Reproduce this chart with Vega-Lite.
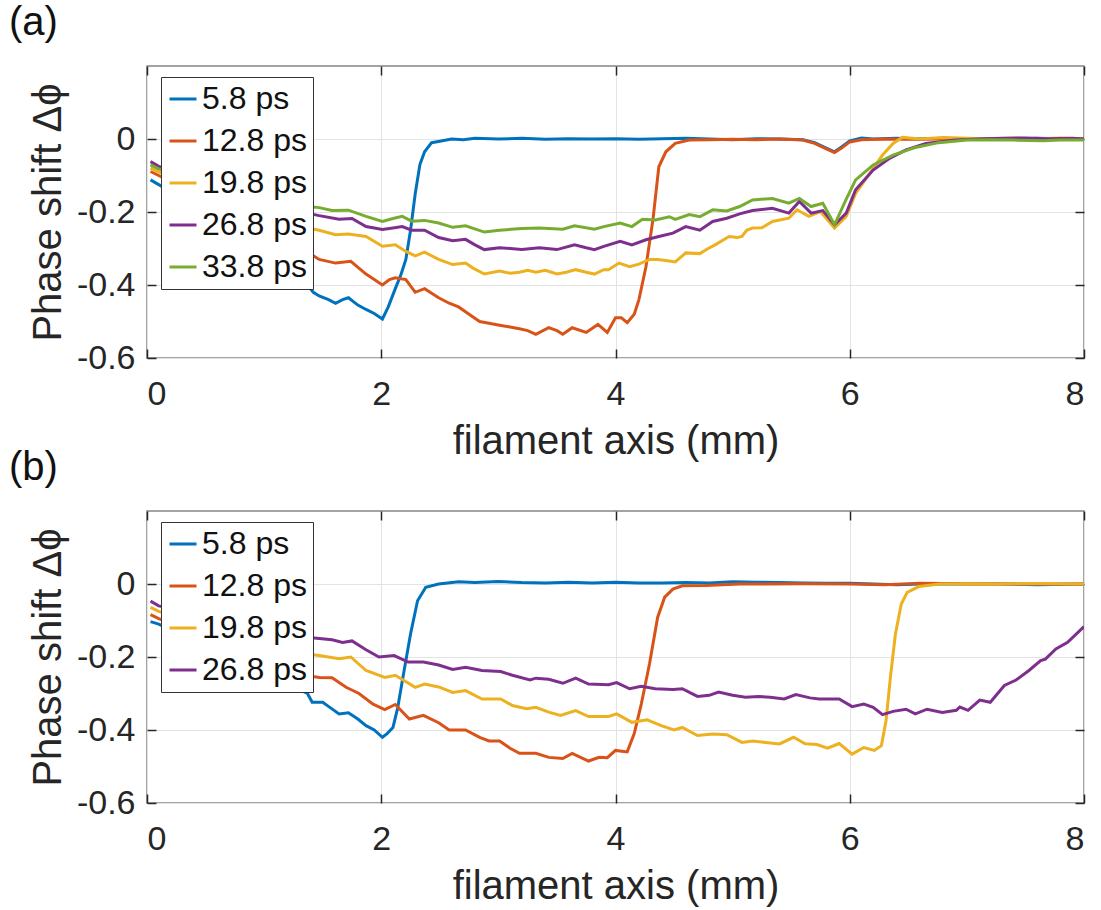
{
  "$schema": "https://vega.github.io/schema/vega-lite/v6.json",
  "background": "white",
  "padding": {"left": 8, "top": 2, "right": 5, "bottom": 5},
  "spacing": -15,
  "config": {
    "font": "Liberation Sans",
    "view": {"stroke": "#858585", "strokeWidth": 1.5},
    "title": {"fontSize": 40, "fontWeight": "normal", "color": "#111", "anchor": "start", "frame": "group"},
    "axis": {
      "labelFontSize": 34, "titleFontSize": 40, "titleFontWeight": "normal",
      "labelColor": "#262626", "titleColor": "#262626",
      "grid": true, "gridColor": "#e3e3e3", "gridWidth": 1,
      "domain": false, "tickColor": "#262626", "tickSize": -9, "tickWidth": 1.5
    },
    "legend": {
      "orient": "none", "legendX": 14, "legendY": 11, "title": null,
      "labelFontSize": 32, "labelColor": "#111", "labelOffset": 3,
      "symbolType": "stroke", "symbolStrokeWidth": 3, "symbolSize": 729,
      "strokeColor": "#333", "fillColor": "white", "padding": 6, "rowPadding": 10
    }
  },
  "vconcat": [
    {
      "width": 937, "height": 292,
      "title": {"text": "(a)", "dx": -138, "offset": 22},
      "data": {"values": [
        {"s":"5.8 ps","x":0.03,"y":-0.112},{"s":"5.8 ps","x":0.1,"y":-0.125},{"s":"5.8 ps","x":1.37,"y":-0.40},{"s":"5.8 ps","x":1.42,"y":-0.42},{"s":"5.8 ps","x":1.47,"y":-0.43},{"s":"5.8 ps","x":1.55,"y":-0.44},{"s":"5.8 ps","x":1.61,"y":-0.45},{"s":"5.8 ps","x":1.67,"y":-0.44},{"s":"5.8 ps","x":1.72,"y":-0.435},{"s":"5.8 ps","x":1.8,"y":-0.455},{"s":"5.8 ps","x":1.87,"y":-0.467},{"s":"5.8 ps","x":1.94,"y":-0.478},{"s":"5.8 ps","x":2.01,"y":-0.493},{"s":"5.8 ps","x":2.06,"y":-0.46},{"s":"5.8 ps","x":2.12,"y":-0.41},{"s":"5.8 ps","x":2.17,"y":-0.37},{"s":"5.8 ps","x":2.21,"y":-0.33},{"s":"5.8 ps","x":2.25,"y":-0.25},{"s":"5.8 ps","x":2.29,"y":-0.15},{"s":"5.8 ps","x":2.33,"y":-0.07},{"s":"5.8 ps","x":2.37,"y":-0.035},{"s":"5.8 ps","x":2.43,"y":-0.01},{"s":"5.8 ps","x":2.5,"y":-0.006},{"s":"5.8 ps","x":2.6,"y":0.0},{"s":"5.8 ps","x":2.7,"y":-0.002},{"s":"5.8 ps","x":2.8,"y":0.002},{"s":"5.8 ps","x":3.0,"y":0.0},{"s":"5.8 ps","x":3.2,"y":0.002},{"s":"5.8 ps","x":3.4,"y":-0.001},{"s":"5.8 ps","x":3.6,"y":0.001},{"s":"5.8 ps","x":3.8,"y":0.0},{"s":"5.8 ps","x":4.0,"y":0.001},{"s":"5.8 ps","x":4.2,"y":-0.001},{"s":"5.8 ps","x":4.4,"y":0.001},{"s":"5.8 ps","x":4.6,"y":0.002},{"s":"5.8 ps","x":4.8,"y":0.0},{"s":"5.8 ps","x":5.0,"y":-0.002},{"s":"5.8 ps","x":5.2,"y":0.001},{"s":"5.8 ps","x":5.4,"y":0.0},{"s":"5.8 ps","x":5.6,"y":-0.002},{"s":"5.8 ps","x":5.7,"y":-0.01},{"s":"5.8 ps","x":5.8,"y":-0.025},{"s":"5.8 ps","x":5.87,"y":-0.035},{"s":"5.8 ps","x":5.93,"y":-0.022},{"s":"5.8 ps","x":6.0,"y":-0.005},{"s":"5.8 ps","x":6.1,"y":0.003},{"s":"5.8 ps","x":6.2,"y":0.0},{"s":"5.8 ps","x":6.4,"y":0.002},{"s":"5.8 ps","x":6.6,"y":0.0},{"s":"5.8 ps","x":6.8,"y":0.002},{"s":"5.8 ps","x":7.0,"y":0.0},{"s":"5.8 ps","x":7.2,"y":0.001},{"s":"5.8 ps","x":7.4,"y":0.0},{"s":"5.8 ps","x":7.6,"y":0.002},{"s":"5.8 ps","x":7.8,"y":0.001},{"s":"5.8 ps","x":8.0,"y":0.0},
        {"s":"12.8 ps","x":0.03,"y":-0.089},{"s":"12.8 ps","x":0.1,"y":-0.10},{"s":"12.8 ps","x":1.37,"y":-0.31},{"s":"12.8 ps","x":1.47,"y":-0.33},{"s":"12.8 ps","x":1.61,"y":-0.34},{"s":"12.8 ps","x":1.74,"y":-0.335},{"s":"12.8 ps","x":1.87,"y":-0.37},{"s":"12.8 ps","x":2.01,"y":-0.40},{"s":"12.8 ps","x":2.07,"y":-0.385},{"s":"12.8 ps","x":2.12,"y":-0.38},{"s":"12.8 ps","x":2.21,"y":-0.385},{"s":"12.8 ps","x":2.29,"y":-0.42},{"s":"12.8 ps","x":2.37,"y":-0.41},{"s":"12.8 ps","x":2.49,"y":-0.435},{"s":"12.8 ps","x":2.58,"y":-0.45},{"s":"12.8 ps","x":2.66,"y":-0.46},{"s":"12.8 ps","x":2.75,"y":-0.48},{"s":"12.8 ps","x":2.84,"y":-0.50},{"s":"12.8 ps","x":2.92,"y":-0.505},{"s":"12.8 ps","x":3.01,"y":-0.51},{"s":"12.8 ps","x":3.1,"y":-0.515},{"s":"12.8 ps","x":3.18,"y":-0.52},{"s":"12.8 ps","x":3.25,"y":-0.525},{"s":"12.8 ps","x":3.32,"y":-0.535},{"s":"12.8 ps","x":3.43,"y":-0.517},{"s":"12.8 ps","x":3.5,"y":-0.525},{"s":"12.8 ps","x":3.55,"y":-0.535},{"s":"12.8 ps","x":3.63,"y":-0.517},{"s":"12.8 ps","x":3.75,"y":-0.53},{"s":"12.8 ps","x":3.85,"y":-0.508},{"s":"12.8 ps","x":3.93,"y":-0.53},{"s":"12.8 ps","x":4.0,"y":-0.49},{"s":"12.8 ps","x":4.05,"y":-0.49},{"s":"12.8 ps","x":4.1,"y":-0.503},{"s":"12.8 ps","x":4.16,"y":-0.48},{"s":"12.8 ps","x":4.2,"y":-0.44},{"s":"12.8 ps","x":4.26,"y":-0.35},{"s":"12.8 ps","x":4.32,"y":-0.22},{"s":"12.8 ps","x":4.37,"y":-0.076},{"s":"12.8 ps","x":4.43,"y":-0.035},{"s":"12.8 ps","x":4.51,"y":-0.012},{"s":"12.8 ps","x":4.63,"y":-0.003},{"s":"12.8 ps","x":4.8,"y":-0.002},{"s":"12.8 ps","x":5.0,"y":-0.001},{"s":"12.8 ps","x":5.2,"y":-0.002},{"s":"12.8 ps","x":5.4,"y":0.0},{"s":"12.8 ps","x":5.6,"y":-0.003},{"s":"12.8 ps","x":5.7,"y":-0.012},{"s":"12.8 ps","x":5.8,"y":-0.027},{"s":"12.8 ps","x":5.87,"y":-0.037},{"s":"12.8 ps","x":5.93,"y":-0.025},{"s":"12.8 ps","x":6.0,"y":-0.008},{"s":"12.8 ps","x":6.1,"y":-0.002},{"s":"12.8 ps","x":6.3,"y":0.0},{"s":"12.8 ps","x":6.5,"y":-0.001},{"s":"12.8 ps","x":6.8,"y":0.0},{"s":"12.8 ps","x":7.0,"y":0.001},{"s":"12.8 ps","x":7.3,"y":0.0},{"s":"12.8 ps","x":7.6,"y":0.001},{"s":"12.8 ps","x":8.0,"y":0.0},
        {"s":"19.8 ps","x":0.03,"y":-0.08},{"s":"19.8 ps","x":0.1,"y":-0.09},{"s":"19.8 ps","x":1.37,"y":-0.244},{"s":"19.8 ps","x":1.47,"y":-0.25},{"s":"19.8 ps","x":1.61,"y":-0.262},{"s":"19.8 ps","x":1.72,"y":-0.26},{"s":"19.8 ps","x":1.87,"y":-0.267},{"s":"19.8 ps","x":2.01,"y":-0.294},{"s":"19.8 ps","x":2.12,"y":-0.29},{"s":"19.8 ps","x":2.21,"y":-0.308},{"s":"19.8 ps","x":2.29,"y":-0.32},{"s":"19.8 ps","x":2.37,"y":-0.31},{"s":"19.8 ps","x":2.49,"y":-0.33},{"s":"19.8 ps","x":2.61,"y":-0.344},{"s":"19.8 ps","x":2.72,"y":-0.34},{"s":"19.8 ps","x":2.78,"y":-0.353},{"s":"19.8 ps","x":2.88,"y":-0.37},{"s":"19.8 ps","x":3.01,"y":-0.362},{"s":"19.8 ps","x":3.1,"y":-0.368},{"s":"19.8 ps","x":3.18,"y":-0.365},{"s":"19.8 ps","x":3.25,"y":-0.36},{"s":"19.8 ps","x":3.32,"y":-0.365},{"s":"19.8 ps","x":3.4,"y":-0.36},{"s":"19.8 ps","x":3.5,"y":-0.37},{"s":"19.8 ps","x":3.58,"y":-0.365},{"s":"19.8 ps","x":3.66,"y":-0.358},{"s":"19.8 ps","x":3.75,"y":-0.365},{"s":"19.8 ps","x":3.82,"y":-0.37},{"s":"19.8 ps","x":3.9,"y":-0.358},{"s":"19.8 ps","x":3.94,"y":-0.358},{"s":"19.8 ps","x":4.03,"y":-0.34},{"s":"19.8 ps","x":4.12,"y":-0.35},{"s":"19.8 ps","x":4.2,"y":-0.343},{"s":"19.8 ps","x":4.29,"y":-0.33},{"s":"19.8 ps","x":4.36,"y":-0.33},{"s":"19.8 ps","x":4.43,"y":-0.333},{"s":"19.8 ps","x":4.51,"y":-0.337},{"s":"19.8 ps","x":4.6,"y":-0.312},{"s":"19.8 ps","x":4.72,"y":-0.314},{"s":"19.8 ps","x":4.78,"y":-0.302},{"s":"19.8 ps","x":4.85,"y":-0.29},{"s":"19.8 ps","x":4.97,"y":-0.267},{"s":"19.8 ps","x":5.04,"y":-0.27},{"s":"19.8 ps","x":5.08,"y":-0.267},{"s":"19.8 ps","x":5.12,"y":-0.25},{"s":"19.8 ps","x":5.17,"y":-0.244},{"s":"19.8 ps","x":5.25,"y":-0.243},{"s":"19.8 ps","x":5.34,"y":-0.226},{"s":"19.8 ps","x":5.48,"y":-0.217},{"s":"19.8 ps","x":5.55,"y":-0.194},{"s":"19.8 ps","x":5.65,"y":-0.212},{"s":"19.8 ps","x":5.75,"y":-0.199},{"s":"19.8 ps","x":5.87,"y":-0.244},{"s":"19.8 ps","x":5.97,"y":-0.212},{"s":"19.8 ps","x":6.05,"y":-0.149},{"s":"19.8 ps","x":6.17,"y":-0.094},{"s":"19.8 ps","x":6.28,"y":-0.044},{"s":"19.8 ps","x":6.37,"y":-0.012},{"s":"19.8 ps","x":6.45,"y":0.005},{"s":"19.8 ps","x":6.6,"y":0.0},{"s":"19.8 ps","x":6.8,"y":0.004},{"s":"19.8 ps","x":7.0,"y":0.002},{"s":"19.8 ps","x":7.2,"y":0.0},{"s":"19.8 ps","x":7.4,"y":0.002},{"s":"19.8 ps","x":7.6,"y":0.001},{"s":"19.8 ps","x":7.8,"y":0.003},{"s":"19.8 ps","x":8.0,"y":0.0},
        {"s":"26.8 ps","x":0.03,"y":-0.062},{"s":"26.8 ps","x":0.1,"y":-0.075},{"s":"26.8 ps","x":1.37,"y":-0.203},{"s":"26.8 ps","x":1.47,"y":-0.21},{"s":"26.8 ps","x":1.64,"y":-0.22},{"s":"26.8 ps","x":1.75,"y":-0.218},{"s":"26.8 ps","x":1.87,"y":-0.24},{"s":"26.8 ps","x":2.01,"y":-0.248},{"s":"26.8 ps","x":2.1,"y":-0.244},{"s":"26.8 ps","x":2.18,"y":-0.24},{"s":"26.8 ps","x":2.26,"y":-0.25},{"s":"26.8 ps","x":2.37,"y":-0.25},{"s":"26.8 ps","x":2.49,"y":-0.27},{"s":"26.8 ps","x":2.61,"y":-0.279},{"s":"26.8 ps","x":2.72,"y":-0.275},{"s":"26.8 ps","x":2.8,"y":-0.29},{"s":"26.8 ps","x":2.88,"y":-0.303},{"s":"26.8 ps","x":3.01,"y":-0.298},{"s":"26.8 ps","x":3.1,"y":-0.3},{"s":"26.8 ps","x":3.2,"y":-0.303},{"s":"26.8 ps","x":3.35,"y":-0.298},{"s":"26.8 ps","x":3.5,"y":-0.303},{"s":"26.8 ps","x":3.65,"y":-0.29},{"s":"26.8 ps","x":3.75,"y":-0.298},{"s":"26.8 ps","x":3.82,"y":-0.303},{"s":"26.8 ps","x":3.9,"y":-0.294},{"s":"26.8 ps","x":4.04,"y":-0.28},{"s":"26.8 ps","x":4.14,"y":-0.29},{"s":"26.8 ps","x":4.26,"y":-0.276},{"s":"26.8 ps","x":4.37,"y":-0.267},{"s":"26.8 ps","x":4.49,"y":-0.258},{"s":"26.8 ps","x":4.6,"y":-0.24},{"s":"26.8 ps","x":4.72,"y":-0.25},{"s":"26.8 ps","x":4.83,"y":-0.226},{"s":"26.8 ps","x":4.95,"y":-0.217},{"s":"26.8 ps","x":5.06,"y":-0.205},{"s":"26.8 ps","x":5.17,"y":-0.196},{"s":"26.8 ps","x":5.34,"y":-0.19},{"s":"26.8 ps","x":5.48,"y":-0.203},{"s":"26.8 ps","x":5.57,"y":-0.171},{"s":"26.8 ps","x":5.67,"y":-0.203},{"s":"26.8 ps","x":5.77,"y":-0.196},{"s":"26.8 ps","x":5.87,"y":-0.235},{"s":"26.8 ps","x":5.97,"y":-0.203},{"s":"26.8 ps","x":6.05,"y":-0.139},{"s":"26.8 ps","x":6.2,"y":-0.085},{"s":"26.8 ps","x":6.34,"y":-0.053},{"s":"26.8 ps","x":6.48,"y":-0.03},{"s":"26.8 ps","x":6.65,"y":-0.012},{"s":"26.8 ps","x":6.9,"y":-0.003},{"s":"26.8 ps","x":7.1,"y":0.0},{"s":"26.8 ps","x":7.3,"y":0.002},{"s":"26.8 ps","x":7.5,"y":0.003},{"s":"26.8 ps","x":7.7,"y":0.001},{"s":"26.8 ps","x":7.9,"y":0.002},{"s":"26.8 ps","x":8.0,"y":0.0},
        {"s":"33.8 ps","x":0.03,"y":-0.071},{"s":"33.8 ps","x":0.1,"y":-0.082},{"s":"33.8 ps","x":1.37,"y":-0.185},{"s":"33.8 ps","x":1.47,"y":-0.188},{"s":"33.8 ps","x":1.58,"y":-0.196},{"s":"33.8 ps","x":1.72,"y":-0.195},{"s":"33.8 ps","x":1.87,"y":-0.212},{"s":"33.8 ps","x":2.01,"y":-0.226},{"s":"33.8 ps","x":2.1,"y":-0.218},{"s":"33.8 ps","x":2.18,"y":-0.212},{"s":"33.8 ps","x":2.26,"y":-0.225},{"s":"33.8 ps","x":2.37,"y":-0.223},{"s":"33.8 ps","x":2.49,"y":-0.23},{"s":"33.8 ps","x":2.61,"y":-0.242},{"s":"33.8 ps","x":2.72,"y":-0.238},{"s":"33.8 ps","x":2.88,"y":-0.255},{"s":"33.8 ps","x":3.01,"y":-0.25},{"s":"33.8 ps","x":3.2,"y":-0.245},{"s":"33.8 ps","x":3.35,"y":-0.244},{"s":"33.8 ps","x":3.55,"y":-0.247},{"s":"33.8 ps","x":3.65,"y":-0.238},{"s":"33.8 ps","x":3.82,"y":-0.247},{"s":"33.8 ps","x":3.9,"y":-0.24},{"s":"33.8 ps","x":4.04,"y":-0.23},{"s":"33.8 ps","x":4.14,"y":-0.24},{"s":"33.8 ps","x":4.23,"y":-0.22},{"s":"33.8 ps","x":4.34,"y":-0.222},{"s":"33.8 ps","x":4.46,"y":-0.213},{"s":"33.8 ps","x":4.51,"y":-0.22},{"s":"33.8 ps","x":4.63,"y":-0.207},{"s":"33.8 ps","x":4.72,"y":-0.213},{"s":"33.8 ps","x":4.83,"y":-0.194},{"s":"33.8 ps","x":4.95,"y":-0.197},{"s":"33.8 ps","x":5.06,"y":-0.185},{"s":"33.8 ps","x":5.17,"y":-0.167},{"s":"33.8 ps","x":5.34,"y":-0.163},{"s":"33.8 ps","x":5.48,"y":-0.176},{"s":"33.8 ps","x":5.57,"y":-0.163},{"s":"33.8 ps","x":5.67,"y":-0.185},{"s":"33.8 ps","x":5.77,"y":-0.176},{"s":"33.8 ps","x":5.87,"y":-0.235},{"s":"33.8 ps","x":5.97,"y":-0.165},{"s":"33.8 ps","x":6.05,"y":-0.112},{"s":"33.8 ps","x":6.2,"y":-0.071},{"s":"33.8 ps","x":6.37,"y":-0.044},{"s":"33.8 ps","x":6.55,"y":-0.024},{"s":"33.8 ps","x":6.76,"y":-0.01},{"s":"33.8 ps","x":7.0,"y":-0.003},{"s":"33.8 ps","x":7.2,"y":-0.002},{"s":"33.8 ps","x":7.4,"y":-0.003},{"s":"33.8 ps","x":7.65,"y":-0.005},{"s":"33.8 ps","x":7.8,"y":-0.003},{"s":"33.8 ps","x":8.0,"y":-0.003}
      ]},
      "layer": [
        {
          "mark": {"type": "line", "strokeWidth": 3, "clip": true},
          "encoding": {
            "x": {"field": "x", "type": "quantitative", "scale": {"domain": [0, 8], "nice": false}, "axis": {"values": [0, 2, 4, 6, 8], "title": "filament axis (mm)", "labelPadding": 28, "titlePadding": 10}},
            "y": {"field": "y", "type": "quantitative", "scale": {"domain": [-0.6, 0.2], "nice": false, "zero": false}, "axis": {"values": [-0.6, -0.4, -0.2, 0], "title": "Phase shift Δϕ", "labelPadding": 21, "titlePadding": 8, "labelExpr": "datum.value == 0 ? '0' : '-' + format(abs(datum.value), '.1f')"}},
            "color": {"field": "s", "type": "nominal", "scale": {"domain": ["5.8 ps", "12.8 ps", "19.8 ps", "26.8 ps", "33.8 ps"], "range": ["#0072BD", "#D95319", "#EDB120", "#7E2F8E", "#77AC30"]}}
          }
        },
        {
          "mark": {"type": "point", "opacity": 0},
          "encoding": {
            "x": {"field": "x", "type": "quantitative", "axis": {"orient": "top", "values": [0, 2, 4, 6, 8], "labels": false, "title": null, "grid": false}},
            "y": {"field": "y", "type": "quantitative", "axis": {"orient": "right", "values": [-0.6, -0.4, -0.2, 0], "labels": false, "title": null, "grid": false}}
          }
        }
      ],
      "resolve": {"axis": {"x": "independent", "y": "independent"}}
    },
    {
      "width": 937, "height": 292,
      "title": {"text": "(b)", "dx": -138, "offset": 22},
      "data": {"values": [
        {"s":"5.8 ps","x":0.03,"y":-0.103},{"s":"5.8 ps","x":0.1,"y":-0.11},{"s":"5.8 ps","x":1.37,"y":-0.30},{"s":"5.8 ps","x":1.41,"y":-0.324},{"s":"5.8 ps","x":1.5,"y":-0.324},{"s":"5.8 ps","x":1.57,"y":-0.34},{"s":"5.8 ps","x":1.64,"y":-0.356},{"s":"5.8 ps","x":1.72,"y":-0.353},{"s":"5.8 ps","x":1.8,"y":-0.37},{"s":"5.8 ps","x":1.87,"y":-0.388},{"s":"5.8 ps","x":1.94,"y":-0.40},{"s":"5.8 ps","x":2.01,"y":-0.42},{"s":"5.8 ps","x":2.05,"y":-0.41},{"s":"5.8 ps","x":2.1,"y":-0.393},{"s":"5.8 ps","x":2.14,"y":-0.34},{"s":"5.8 ps","x":2.18,"y":-0.265},{"s":"5.8 ps","x":2.25,"y":-0.137},{"s":"5.8 ps","x":2.31,"y":-0.046},{"s":"5.8 ps","x":2.38,"y":-0.009},{"s":"5.8 ps","x":2.49,"y":0.0},{"s":"5.8 ps","x":2.66,"y":0.006},{"s":"5.8 ps","x":2.8,"y":0.004},{"s":"5.8 ps","x":3.0,"y":0.007},{"s":"5.8 ps","x":3.2,"y":0.004},{"s":"5.8 ps","x":3.4,"y":0.003},{"s":"5.8 ps","x":3.6,"y":0.005},{"s":"5.8 ps","x":3.8,"y":0.003},{"s":"5.8 ps","x":4.0,"y":0.005},{"s":"5.8 ps","x":4.2,"y":0.003},{"s":"5.8 ps","x":4.4,"y":0.003},{"s":"5.8 ps","x":4.6,"y":0.004},{"s":"5.8 ps","x":4.8,"y":0.003},{"s":"5.8 ps","x":5.0,"y":0.006},{"s":"5.8 ps","x":5.2,"y":0.005},{"s":"5.8 ps","x":5.4,"y":0.004},{"s":"5.8 ps","x":5.6,"y":0.003},{"s":"5.8 ps","x":5.8,"y":0.002},{"s":"5.8 ps","x":6.0,"y":0.002},{"s":"5.8 ps","x":6.2,"y":0.0},{"s":"5.8 ps","x":6.4,"y":-0.002},{"s":"5.8 ps","x":6.6,"y":0.0},{"s":"5.8 ps","x":6.8,"y":0.001},{"s":"5.8 ps","x":7.0,"y":0.0},{"s":"5.8 ps","x":7.3,"y":0.0},{"s":"5.8 ps","x":7.6,"y":-0.002},{"s":"5.8 ps","x":8.0,"y":0.0},
        {"s":"12.8 ps","x":0.03,"y":-0.084},{"s":"12.8 ps","x":0.1,"y":-0.095},{"s":"12.8 ps","x":1.37,"y":-0.251},{"s":"12.8 ps","x":1.47,"y":-0.256},{"s":"12.8 ps","x":1.58,"y":-0.257},{"s":"12.8 ps","x":1.7,"y":-0.283},{"s":"12.8 ps","x":1.81,"y":-0.30},{"s":"12.8 ps","x":1.93,"y":-0.329},{"s":"12.8 ps","x":2.03,"y":-0.344},{"s":"12.8 ps","x":2.12,"y":-0.33},{"s":"12.8 ps","x":2.24,"y":-0.37},{"s":"12.8 ps","x":2.36,"y":-0.36},{"s":"12.8 ps","x":2.49,"y":-0.38},{"s":"12.8 ps","x":2.58,"y":-0.40},{"s":"12.8 ps","x":2.72,"y":-0.40},{"s":"12.8 ps","x":2.84,"y":-0.42},{"s":"12.8 ps","x":2.92,"y":-0.43},{"s":"12.8 ps","x":3.01,"y":-0.43},{"s":"12.8 ps","x":3.1,"y":-0.45},{"s":"12.8 ps","x":3.18,"y":-0.464},{"s":"12.8 ps","x":3.32,"y":-0.464},{"s":"12.8 ps","x":3.43,"y":-0.475},{"s":"12.8 ps","x":3.55,"y":-0.478},{"s":"12.8 ps","x":3.63,"y":-0.464},{"s":"12.8 ps","x":3.77,"y":-0.485},{"s":"12.8 ps","x":3.86,"y":-0.475},{"s":"12.8 ps","x":3.93,"y":-0.476},{"s":"12.8 ps","x":4.0,"y":-0.456},{"s":"12.8 ps","x":4.1,"y":-0.46},{"s":"12.8 ps","x":4.16,"y":-0.41},{"s":"12.8 ps","x":4.22,"y":-0.329},{"s":"12.8 ps","x":4.29,"y":-0.219},{"s":"12.8 ps","x":4.36,"y":-0.091},{"s":"12.8 ps","x":4.42,"y":-0.036},{"s":"12.8 ps","x":4.49,"y":-0.014},{"s":"12.8 ps","x":4.57,"y":-0.005},{"s":"12.8 ps","x":4.77,"y":-0.004},{"s":"12.8 ps","x":5.06,"y":0.0},{"s":"12.8 ps","x":5.3,"y":0.0},{"s":"12.8 ps","x":5.6,"y":0.001},{"s":"12.8 ps","x":6.0,"y":0.0},{"s":"12.8 ps","x":6.3,"y":-0.002},{"s":"12.8 ps","x":6.6,"y":0.002},{"s":"12.8 ps","x":7.0,"y":0.001},{"s":"12.8 ps","x":7.5,"y":0.0},{"s":"12.8 ps","x":8.0,"y":0.0},
        {"s":"19.8 ps","x":0.03,"y":-0.064},{"s":"19.8 ps","x":0.1,"y":-0.075},{"s":"19.8 ps","x":1.37,"y":-0.192},{"s":"19.8 ps","x":1.47,"y":-0.196},{"s":"19.8 ps","x":1.64,"y":-0.205},{"s":"19.8 ps","x":1.74,"y":-0.2},{"s":"19.8 ps","x":1.87,"y":-0.237},{"s":"19.8 ps","x":2.03,"y":-0.256},{"s":"19.8 ps","x":2.12,"y":-0.25},{"s":"19.8 ps","x":2.29,"y":-0.283},{"s":"19.8 ps","x":2.37,"y":-0.274},{"s":"19.8 ps","x":2.49,"y":-0.282},{"s":"19.8 ps","x":2.61,"y":-0.297},{"s":"19.8 ps","x":2.72,"y":-0.292},{"s":"19.8 ps","x":2.86,"y":-0.315},{"s":"19.8 ps","x":3.02,"y":-0.315},{"s":"19.8 ps","x":3.12,"y":-0.333},{"s":"19.8 ps","x":3.24,"y":-0.342},{"s":"19.8 ps","x":3.32,"y":-0.338},{"s":"19.8 ps","x":3.43,"y":-0.351},{"s":"19.8 ps","x":3.53,"y":-0.36},{"s":"19.8 ps","x":3.66,"y":-0.347},{"s":"19.8 ps","x":3.77,"y":-0.363},{"s":"19.8 ps","x":3.94,"y":-0.363},{"s":"19.8 ps","x":4.01,"y":-0.356},{"s":"19.8 ps","x":4.14,"y":-0.379},{"s":"19.8 ps","x":4.27,"y":-0.372},{"s":"19.8 ps","x":4.39,"y":-0.388},{"s":"19.8 ps","x":4.5,"y":-0.40},{"s":"19.8 ps","x":4.57,"y":-0.393},{"s":"19.8 ps","x":4.7,"y":-0.415},{"s":"19.8 ps","x":4.83,"y":-0.411},{"s":"19.8 ps","x":4.95,"y":-0.413},{"s":"19.8 ps","x":5.08,"y":-0.434},{"s":"19.8 ps","x":5.17,"y":-0.43},{"s":"19.8 ps","x":5.28,"y":-0.434},{"s":"19.8 ps","x":5.4,"y":-0.438},{"s":"19.8 ps","x":5.52,"y":-0.42},{"s":"19.8 ps","x":5.62,"y":-0.438},{"s":"19.8 ps","x":5.72,"y":-0.44},{"s":"19.8 ps","x":5.81,"y":-0.45},{"s":"19.8 ps","x":5.91,"y":-0.437},{"s":"19.8 ps","x":6.02,"y":-0.466},{"s":"19.8 ps","x":6.12,"y":-0.448},{"s":"19.8 ps","x":6.21,"y":-0.456},{"s":"19.8 ps","x":6.27,"y":-0.443},{"s":"19.8 ps","x":6.31,"y":-0.374},{"s":"19.8 ps","x":6.35,"y":-0.247},{"s":"19.8 ps","x":6.39,"y":-0.137},{"s":"19.8 ps","x":6.44,"y":-0.055},{"s":"19.8 ps","x":6.49,"y":-0.023},{"s":"19.8 ps","x":6.59,"y":-0.007},{"s":"19.8 ps","x":6.77,"y":0.0},{"s":"19.8 ps","x":7.0,"y":0.001},{"s":"19.8 ps","x":7.3,"y":0.0},{"s":"19.8 ps","x":7.6,"y":0.001},{"s":"19.8 ps","x":8.0,"y":0.0},
        {"s":"26.8 ps","x":0.03,"y":-0.047},{"s":"26.8 ps","x":0.1,"y":-0.06},{"s":"26.8 ps","x":1.37,"y":-0.146},{"s":"26.8 ps","x":1.47,"y":-0.149},{"s":"26.8 ps","x":1.58,"y":-0.153},{"s":"26.8 ps","x":1.67,"y":-0.16},{"s":"26.8 ps","x":1.75,"y":-0.156},{"s":"26.8 ps","x":1.87,"y":-0.18},{"s":"26.8 ps","x":1.98,"y":-0.2},{"s":"26.8 ps","x":2.11,"y":-0.196},{"s":"26.8 ps","x":2.23,"y":-0.214},{"s":"26.8 ps","x":2.36,"y":-0.214},{"s":"26.8 ps","x":2.49,"y":-0.222},{"s":"26.8 ps","x":2.61,"y":-0.234},{"s":"26.8 ps","x":2.72,"y":-0.228},{"s":"26.8 ps","x":2.86,"y":-0.237},{"s":"26.8 ps","x":3.02,"y":-0.24},{"s":"26.8 ps","x":3.12,"y":-0.25},{"s":"26.8 ps","x":3.27,"y":-0.263},{"s":"26.8 ps","x":3.32,"y":-0.258},{"s":"26.8 ps","x":3.43,"y":-0.261},{"s":"26.8 ps","x":3.55,"y":-0.272},{"s":"26.8 ps","x":3.66,"y":-0.258},{"s":"26.8 ps","x":3.77,"y":-0.274},{"s":"26.8 ps","x":3.94,"y":-0.276},{"s":"26.8 ps","x":4.01,"y":-0.27},{"s":"26.8 ps","x":4.12,"y":-0.287},{"s":"26.8 ps","x":4.22,"y":-0.28},{"s":"26.8 ps","x":4.34,"y":-0.287},{"s":"26.8 ps","x":4.49,"y":-0.289},{"s":"26.8 ps","x":4.57,"y":-0.287},{"s":"26.8 ps","x":4.7,"y":-0.308},{"s":"26.8 ps","x":4.8,"y":-0.305},{"s":"26.8 ps","x":4.88,"y":-0.296},{"s":"26.8 ps","x":5.0,"y":-0.305},{"s":"26.8 ps","x":5.11,"y":-0.31},{"s":"26.8 ps","x":5.22,"y":-0.308},{"s":"26.8 ps","x":5.32,"y":-0.31},{"s":"26.8 ps","x":5.44,"y":-0.315},{"s":"26.8 ps","x":5.54,"y":-0.303},{"s":"26.8 ps","x":5.66,"y":-0.312},{"s":"26.8 ps","x":5.74,"y":-0.315},{"s":"26.8 ps","x":5.91,"y":-0.315},{"s":"26.8 ps","x":6.02,"y":-0.336},{"s":"26.8 ps","x":6.12,"y":-0.329},{"s":"26.8 ps","x":6.2,"y":-0.338},{"s":"26.8 ps","x":6.28,"y":-0.358},{"s":"26.8 ps","x":6.37,"y":-0.349},{"s":"26.8 ps","x":6.48,"y":-0.343},{"s":"26.8 ps","x":6.56,"y":-0.356},{"s":"26.8 ps","x":6.66,"y":-0.343},{"s":"26.8 ps","x":6.79,"y":-0.352},{"s":"26.8 ps","x":6.91,"y":-0.346},{"s":"26.8 ps","x":6.94,"y":-0.337},{"s":"26.8 ps","x":7.01,"y":-0.346},{"s":"26.8 ps","x":7.11,"y":-0.318},{"s":"26.8 ps","x":7.2,"y":-0.324},{"s":"26.8 ps","x":7.32,"y":-0.278},{"s":"26.8 ps","x":7.42,"y":-0.263},{"s":"26.8 ps","x":7.53,"y":-0.237},{"s":"26.8 ps","x":7.63,"y":-0.21},{"s":"26.8 ps","x":7.67,"y":-0.206},{"s":"26.8 ps","x":7.76,"y":-0.178},{"s":"26.8 ps","x":7.86,"y":-0.16},{"s":"26.8 ps","x":8.0,"y":-0.117}
      ]},
      "layer": [
        {
          "mark": {"type": "line", "strokeWidth": 3, "clip": true},
          "encoding": {
            "x": {"field": "x", "type": "quantitative", "scale": {"domain": [0, 8], "nice": false}, "axis": {"values": [0, 2, 4, 6, 8], "title": "filament axis (mm)", "labelPadding": 28, "titlePadding": 10}},
            "y": {"field": "y", "type": "quantitative", "scale": {"domain": [-0.6, 0.2], "nice": false, "zero": false}, "axis": {"values": [-0.6, -0.4, -0.2, 0], "title": "Phase shift Δϕ", "labelPadding": 21, "titlePadding": 8, "labelExpr": "datum.value == 0 ? '0' : '-' + format(abs(datum.value), '.1f')"}},
            "color": {"field": "s", "type": "nominal", "scale": {"domain": ["5.8 ps", "12.8 ps", "19.8 ps", "26.8 ps"], "range": ["#0072BD", "#D95319", "#EDB120", "#7E2F8E"]}}
          }
        },
        {
          "mark": {"type": "point", "opacity": 0},
          "encoding": {
            "x": {"field": "x", "type": "quantitative", "axis": {"orient": "top", "values": [0, 2, 4, 6, 8], "labels": false, "title": null, "grid": false}},
            "y": {"field": "y", "type": "quantitative", "axis": {"orient": "right", "values": [-0.6, -0.4, -0.2, 0], "labels": false, "title": null, "grid": false}}
          }
        }
      ],
      "resolve": {"axis": {"x": "independent", "y": "independent"}}
    }
  ],
  "resolve": {"scale": {"color": "independent"}, "legend": {"color": "independent"}}
}
